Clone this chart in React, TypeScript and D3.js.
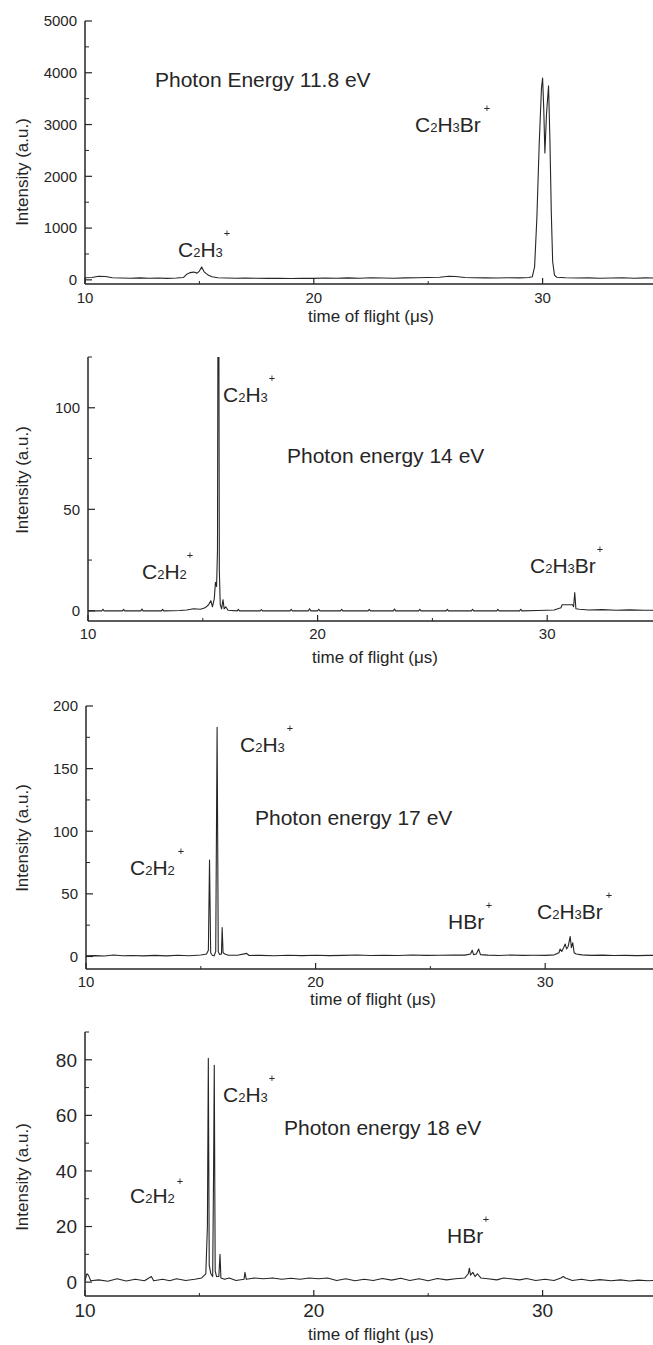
import React from 'react';
import * as d3 from 'd3';

type Pt = [number, number];

// ---------- data (time of flight in µs, intensity in a.u.) ----------
const spectrum118: Pt[] = [
  [10.0, 40], [10.3, 45], [10.6, 70], [10.9, 65], [11.2, 40], [11.6, 35], [12.0, 30], [12.4, 38],
  [12.8, 30], [13.2, 35], [13.6, 28], [14.0, 35], [14.3, 45], [14.45, 110], [14.6, 140], [14.75, 150],
  [14.9, 130], [15.0, 170], [15.1, 250], [15.2, 160], [15.3, 120], [15.4, 90], [15.55, 60], [15.8, 40],
  [16.2, 35], [16.6, 30], [17.0, 35], [17.5, 30], [18.0, 28], [18.5, 32], [19.0, 25], [19.5, 30],
  [20.0, 28], [20.5, 35], [21.0, 30], [21.5, 38], [22.0, 32], [22.5, 40], [23.0, 35], [23.5, 30],
  [24.0, 38], [24.5, 42], [25.0, 45], [25.5, 50], [25.9, 70], [26.2, 65], [26.6, 45], [27.0, 40],
  [27.5, 38], [28.0, 35], [28.5, 40], [29.0, 38], [29.4, 45], [29.55, 60], [29.65, 250], [29.75, 1200],
  [29.85, 2600], [29.95, 3700], [30.0, 3900], [30.05, 3300], [30.1, 2450], [30.17, 3200], [30.26, 3750],
  [30.32, 2700], [30.38, 1300], [30.44, 350], [30.52, 90], [30.62, 50], [31.0, 40], [31.5, 35],
  [32.0, 38], [32.5, 30], [33.0, 35], [33.5, 40], [34.0, 32], [34.5, 38], [35.0, 35],
];

const spectrum14: Pt[] = [
  [10.0, 0], [10.6, 0], [10.65, 0.8], [10.7, 0], [11.5, 0], [11.55, 0.7], [11.6, 0], [12.3, 0],
  [12.35, 0.9], [12.4, 0], [13.2, 0], [13.25, 0.7], [13.3, 0], [14.0, 0.2], [14.3, 0.4], [14.6, 1.0],
  [14.9, 0.8], [15.1, 1.5], [15.25, 3], [15.35, 5], [15.42, 2], [15.5, 6], [15.55, 14], [15.6, 12],
  [15.64, 30], [15.68, 260], [15.72, 20], [15.76, 3], [15.82, 1], [15.88, 5.5], [15.93, 1], [16.0, 2],
  [16.1, 0.3], [16.5, 0], [16.55, 0.7], [16.6, 0], [17.5, 0], [17.55, 0.6], [17.6, 0], [18.8, 0],
  [18.85, 0.8], [18.9, 0], [19.6, 0], [19.65, 1.0], [19.7, 0], [20.0, 0], [20.05, 0.8], [20.1, 0],
  [21.0, 0], [21.05, 0.8], [21.1, 0], [22.2, 0], [22.25, 0.7], [22.3, 0], [23.3, 0], [23.35, 0.9],
  [23.4, 0], [24.4, 0], [24.45, 0.8], [24.5, 0], [25.6, 0], [25.65, 0.7], [25.7, 0], [26.7, 0],
  [26.75, 0.8], [26.8, 0], [27.8, 0], [27.85, 0.7], [27.9, 0], [28.8, 0], [28.85, 0.8], [28.9, 0],
  [29.6, 0.2], [30.3, 0.4], [30.6, 1.5], [30.65, 3], [31.1, 3], [31.15, 2], [31.2, 9], [31.25, 1],
  [31.4, 0.8], [31.8, 0.4], [32.4, 0.6], [33.0, 0.3], [33.6, 0.5], [34.2, 0.3], [35.0, 0.3],
];

const spectrum17: Pt[] = [
  [10.0, 0.5], [10.4, 0.7], [10.8, 0.4], [11.2, 1.2], [11.6, 0.6], [12.0, 0.8], [12.5, 0.5], [13.0, 0.9],
  [13.5, 0.5], [14.0, 1.0], [14.5, 0.6], [15.0, 1.2], [15.25, 2], [15.33, 5], [15.38, 77], [15.43, 3],
  [15.5, 1], [15.58, 0.5], [15.65, 4], [15.71, 183], [15.76, 4], [15.82, 1.5], [15.9, 2], [15.93, 23],
  [15.97, 3], [16.05, 2], [16.2, 1], [16.6, 1.0], [17.0, 2.5], [17.1, 0.8], [17.6, 0.9], [18.2, 0.6],
  [18.8, 1.0], [19.4, 0.7], [20.0, 1.0], [20.6, 0.7], [21.2, 0.9], [21.8, 1.2], [22.4, 0.8], [23.0, 1.0],
  [23.6, 0.8], [24.2, 1.2], [24.8, 0.9], [25.4, 1.0], [26.0, 1.2], [26.5, 1.1], [26.75, 2], [26.82, 5],
  [26.88, 1.5], [27.0, 2], [27.1, 6], [27.18, 1.5], [27.5, 1.1], [28.0, 0.8], [28.5, 1.2], [29.0, 0.9],
  [29.5, 1.0], [30.0, 0.9], [30.4, 1.3], [30.6, 3], [30.65, 6], [30.72, 4], [30.8, 7], [30.87, 10],
  [30.93, 6], [31.0, 8], [31.09, 16], [31.14, 7], [31.2, 11], [31.26, 3], [31.35, 2], [31.6, 1.3],
  [32.0, 0.9], [32.5, 1.1], [33.0, 0.8], [33.5, 0.9], [34.0, 0.7], [34.5, 0.9], [35.0, 0.8],
];

const spectrum18: Pt[] = [
  [10.0, 0.5], [10.08, 3], [10.15, 2.5], [10.25, 0.5], [10.6, 0.8], [11.0, 0.3], [11.4, 1.2], [11.8, 0.4],
  [12.2, 1.0], [12.6, 0.5], [12.9, 2], [13.0, 0.5], [13.4, 1.0], [13.7, 0.5], [14.0, 1.2], [14.4, 0.6],
  [14.8, 1.0], [15.1, 1.5], [15.28, 3], [15.35, 20], [15.39, 80.5], [15.43, 6], [15.5, 3], [15.58, 2],
  [15.62, 40], [15.65, 78], [15.69, 4], [15.75, 2], [15.85, 2], [15.9, 10], [15.94, 1.5], [16.1, 1],
  [16.3, 1.5], [16.6, 0.6], [16.95, 1], [16.99, 3.5], [17.05, 1], [17.4, 1.5], [17.8, 1.2], [18.2, 1.5],
  [18.6, 1.0], [19.0, 1.4], [19.4, 1.0], [19.8, 1.5], [20.2, 1.2], [20.6, 1.5], [21.0, 0.6], [21.4, 1.2],
  [21.8, 0.5], [22.2, 1.0], [22.6, 0.6], [23.0, 1.3], [23.4, 0.7], [23.8, 1.4], [24.2, 0.6], [24.6, 1.2],
  [25.0, 0.5], [25.4, 1.3], [25.8, 0.8], [26.2, 1.2], [26.6, 1.5], [26.75, 3], [26.8, 5], [26.85, 2.5],
  [26.95, 3.5], [27.05, 2], [27.15, 3], [27.3, 1.5], [27.6, 1.2], [28.0, 0.8], [28.3, 1.5], [28.6, 1.2],
  [29.0, 0.8], [29.3, 1.3], [29.7, 0.6], [30.1, 1.0], [30.5, 0.6], [30.8, 1.5], [30.9, 2], [31.0, 1.5],
  [31.3, 0.6], [31.7, 1.0], [32.1, 0.5], [32.5, 0.9], [33.0, 0.5], [33.4, 0.8], [33.8, 0.4], [34.2, 0.7],
  [34.6, 0.5], [35.0, 0.6],
];

const xDomain: [number, number] = [10, 35];
const xTicksMajor = [10, 20, 30];
const xTicksMinor = [15, 25];

const yDomain118: [number, number] = [-80, 5000];
const yTicks118 = [0, 1000, 2000, 3000, 4000, 5000];
const yMinor118 = [500, 1500, 2500, 3500, 4500];
const yDomain14: [number, number] = [-5, 125];
const yTicks14 = [0, 50, 100];
const yMinor14 = [25, 75, 125];
const yDomain17: [number, number] = [-10, 200];
const yTicks17 = [0, 50, 100, 150, 200];
const yMinor17 = [25, 75, 125, 175];
const yDomain18: [number, number] = [-5, 90];
const yTicks18 = [0, 20, 40, 60, 80];
const yMinor18 = [10, 30, 50, 70, 90];

const energyLabels = ['Photon Energy 11.8 eV', 'Photon energy 14 eV', 'Photon energy 17 eV', 'Photon energy 18 eV'];
const ions118 = ['C2H3Br', 'C2H3'];
const ions14 = ['C2H3', 'C2H2', 'C2H3Br'];
const ions17 = ['C2H3', 'C2H2', 'HBr', 'C2H3Br'];
const ions18 = ['C2H3', 'C2H2', 'HBr'];
const xAxisTitle = 'time of flight (\u03bcs)';
const yAxisTitle = 'Intensity (a.u.)';

// ---------- layout ----------
const FONT = "'Liberation Sans', Arial, Helvetica, sans-serif";
const INK = '#262626';

type IonPos = { x: number; y: number; px: number; py: number };
type PanelCfg = {
  data: Pt[];
  yDomain: [number, number];
  yTicks: number[];
  yMinor: number[];
  xRange: [number, number];
  yRange: [number, number];
  tickFont: number;
  tickBase: number;
  xTitleBase: number;
  yTitleCenter: number;
  energy: string;
  energyPos: [number, number];
  ions: string[];
  ionPos: IonPos[];
};

const panels: PanelCfg[] = [
  {
    data: spectrum118, yDomain: yDomain118, yTicks: yTicks118, yMinor: yMinor118,
    xRange: [85, 657], yRange: [284, 21], tickFont: 15, tickBase: 303, xTitleBase: 322, yTitleCenter: 172,
    energy: energyLabels[0], energyPos: [155, 87], ions: ions118,
    ionPos: [{ x: 415, y: 132, px: 487, py: 108 }, { x: 178, y: 257, px: 227, py: 233 }],
  },
  {
    data: spectrum14, yDomain: yDomain14, yTicks: yTicks14, yMinor: yMinor14,
    xRange: [88, 662], yRange: [621, 357], tickFont: 15, tickBase: 639, xTitleBase: 663, yTitleCenter: 480,
    energy: energyLabels[1], energyPos: [287, 463], ions: ions14,
    ionPos: [
      { x: 223, y: 402, px: 272, py: 378 },
      { x: 142, y: 579, px: 190, py: 555 },
      { x: 530, y: 573, px: 600, py: 549 },
    ],
  },
  {
    data: spectrum17, yDomain: yDomain17, yTicks: yTicks17, yMinor: yMinor17,
    xRange: [86, 660], yRange: [969, 706], tickFont: 15, tickBase: 987, xTitleBase: 1005, yTitleCenter: 838,
    energy: energyLabels[2], energyPos: [255, 825], ions: ions17,
    ionPos: [
      { x: 240, y: 752, px: 290, py: 728 },
      { x: 130, y: 875, px: 181, py: 851 },
      { x: 448, y: 929, px: 489, py: 905 },
      { x: 537, y: 919, px: 609, py: 895 },
    ],
  },
  {
    data: spectrum18, yDomain: yDomain18, yTicks: yTicks18, yMinor: yMinor18,
    xRange: [85, 657], yRange: [1296, 1032], tickFont: 19, tickBase: 1317, xTitleBase: 1340, yTitleCenter: 1177,
    energy: energyLabels[3], energyPos: [284, 1135], ions: ions18,
    ionPos: [
      { x: 223, y: 1102, px: 272, py: 1078 },
      { x: 130, y: 1203, px: 180, py: 1181 },
      { x: 447, y: 1243, px: 486, py: 1219 },
    ],
  },
];

function IonLabel({ name, pos }: { name: string; pos: IonPos }) {
  const parts = name.match(/[A-Za-z]+|\d+/g) || [];
  return (
    <g>
      <text x={pos.x} y={pos.y} fontFamily={FONT} fontSize={21} fill={INK}>
        {parts.map((p, i) =>
          /\d/.test(p) ? (
            <tspan key={i} fontSize={13}>{p}</tspan>
          ) : (
            <tspan key={i}>{p}</tspan>
          )
        )}
      </text>
      <g filter="url(#gray)">
        <text x={pos.px} y={pos.py} fontFamily={FONT} fontSize={11} fill={INK}
          textAnchor="middle" dominantBaseline="central">+</text>
      </g>
    </g>
  );
}

function Panel({ cfg, idx }: { cfg: PanelCfg; idx: number }) {
  const x = d3.scaleLinear().domain(xDomain).range(cfg.xRange);
  const y = d3.scaleLinear().domain(cfg.yDomain).range(cfg.yRange);
  const line = d3.line<Pt>().x((d) => x(d[0])).y((d) => y(d[1]));
  const ax = cfg.xRange[0];
  const yBottom = cfg.yRange[0];
  const yTop = cfg.yRange[1];
  const clipId = `clip-${idx}`;
  return (
    <g>
      <defs>
        <clipPath id={clipId}>
          <rect x={ax} y={yTop} width={653 - ax} height={yBottom - yTop} />
        </clipPath>
      </defs>
      <path d={line(cfg.data) || ''} fill="none" stroke={INK} strokeWidth={1.1} strokeLinejoin="round" clipPath={`url(#${clipId})`} />
      <line x1={ax} x2={ax} y1={yTop} y2={yBottom} stroke={INK} strokeWidth={1.5} />
      <line x1={ax} x2={653} y1={yBottom} y2={yBottom} stroke={INK} strokeWidth={1.5} />
      {cfg.yTicks.map((t) => (
        <g key={`yt${t}`}>
          <line x1={ax} x2={ax + 7} y1={y(t)} y2={y(t)} stroke={INK} strokeWidth={1.2} />
          <text x={ax - 8} y={y(t)} dy="0.36em" textAnchor="end" fontFamily={FONT} fontSize={cfg.tickFont} fill={INK}>{t}</text>
        </g>
      ))}
      {cfg.yMinor.map((t) => (
        <line key={`ym${t}`} x1={ax} x2={ax + 4} y1={y(t)} y2={y(t)} stroke={INK} strokeWidth={1} />
      ))}
      {xTicksMajor.map((t) => (
        <g key={`xt${t}`}>
          <line x1={x(t)} x2={x(t)} y1={yBottom} y2={yBottom - 6} stroke={INK} strokeWidth={1.2} />
          <text x={x(t)} y={cfg.tickBase} textAnchor="middle" fontFamily={FONT} fontSize={cfg.tickFont} fill={INK}>{t}</text>
        </g>
      ))}
      {xTicksMinor.map((t) => (
        <line key={`xm${t}`} x1={x(t)} x2={x(t)} y1={yBottom} y2={yBottom - 3} stroke={INK} strokeWidth={1} />
      ))}
      <text x={(cfg.xRange[0] + cfg.xRange[1]) / 2} y={cfg.xTitleBase} textAnchor="middle" fontFamily={FONT} fontSize={17} fill={INK}>{xAxisTitle}</text>
      <text transform={`translate(28,${cfg.yTitleCenter}) rotate(-90)`} textAnchor="middle" fontFamily={FONT} fontSize={17} fill={INK}>{yAxisTitle}</text>
      <text x={cfg.energyPos[0]} y={cfg.energyPos[1]} fontFamily={FONT} fontSize={21} fill={INK}>{cfg.energy}</text>
      {cfg.ions.map((name, i) => (
        <IonLabel key={name + i} name={name} pos={cfg.ionPos[i]} />
      ))}
    </g>
  );
}

export default function App() {
  return (
    <svg width={653} height={1345} viewBox="0 0 653 1345" style={{ position: 'absolute', left: 0, top: 0, background: '#fff' }}>
      <defs>
        <filter id="gray" x="-50%" y="-50%" width="200%" height="200%">
          <feColorMatrix type="saturate" values="0" />
        </filter>
      </defs>
      <rect x={0} y={0} width={653} height={1345} fill="#fff" />
      {panels.map((p, i) => (
        <Panel key={i} cfg={p} idx={i} />
      ))}
    </svg>
  );
}
